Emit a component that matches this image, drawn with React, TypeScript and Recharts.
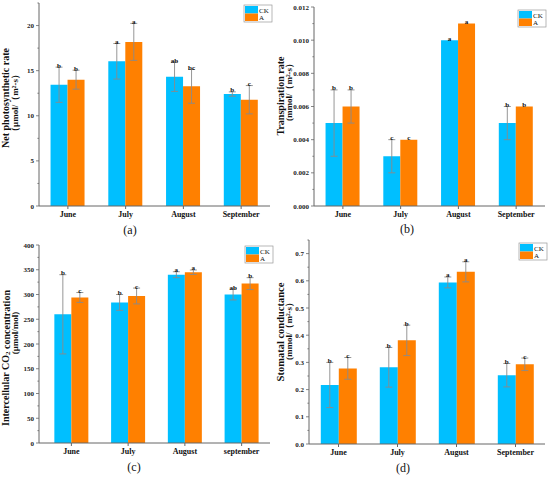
import { Bar, BarChart, ErrorBar, LabelList, XAxis, YAxis } from "recharts";

const BLUE = "#00BFFF";
const ORANGE = "#FF8000";
const AXIS = "#666";
const FONT = "'Liberation Serif', 'Times New Roman', serif";

const months = ["June", "July", "August", "September"];
const monthsC = ["June", "July", "August", "september"];

// (a) net photosynthetic rate
const pnCK = [13.44, 16.04, 14.33, 12.41];
const pnCKErr = [1.95, 1.97, 1.63, 0.24];
const pnA = [14.0, 18.19, 13.26, 11.78];
const pnAErr = [1.05, 2.05, 1.87, 1.57];
const pnCKSig = ["b", "a", "ab", "b"];
const pnASig = ["b", "a", "bc", "c"];
const pnTicks = [0, 2.5, 5, 7.5, 10, 12.5, 15, 17.5, 20, 22.5];

// (b) transpiration rate
const trCK = [0.005, 0.003, 0.01, 0.005];
const trCKErr = [0.002, 0.001, 0, 0.001];
const trA = [0.006, 0.004, 0.011, 0.006];
const trAErr = [0.001, 0, 0, 0];
const trCKSig = ["b", "c", "a", "b"];
const trASig = ["b", "c", "a", "b"];
const trTicks = [0, 0.001, 0.002, 0.003, 0.004, 0.005, 0.006, 0.007, 0.008, 0.009, 0.01, 0.011, 0.012];

// (c) intercellular CO2
const ciCK = [260, 284, 340, 300];
const ciCKErr = [80, 16, 6, 11];
const ciA = [294, 297, 345, 322];
const ciAErr = [10, 16, 4.5, 12];
const ciCKSig = ["b", "b", "a", "ab"];
const ciASig = ["c", "c", "a", "b"];
const ciTicks = [0, 25, 50, 75, 100, 125, 150, 175, 200, 225, 250, 275, 300, 325, 350, 375, 400];

// (d) stomatal conductance
const gsCK = [0.217, 0.282, 0.594, 0.253];
const gsCKErr = [0.083, 0.073, 0.02, 0.043];
const gsA = [0.278, 0.381, 0.633, 0.293];
const gsAErr = [0.04, 0.056, 0.037, 0.023];
const gsCKSig = ["b", "b", "a", "b"];
const gsASig = ["c", "b", "a", "c"];
const gsTicks = [0, 0.05, 0.1, 0.15, 0.2, 0.25, 0.3, 0.35, 0.4, 0.45, 0.5, 0.55, 0.6, 0.65, 0.7, 0.75];

function rows(names: string[], ck: number[], ckErr: number[], a: number[], aErr: number[]) {
  return names.map((name, i) => ({ name, ck: ck[i], ckErr: ckErr[i], a: a[i], aErr: aErr[i] }));
}

const isStep = (v: number, step: number) => Math.abs(v / step - Math.round(v / step)) < 1e-6;

function yTick(step: number, digits: number) {
  return (props: any) => {
    const { x, y, payload } = props;
    const v = payload.value as number;
    const major = isStep(v, step);
    const ax = x + 5;
    return (
      <g>
        <line x1={ax} x2={ax - (major ? 3 : 1.6)} y1={y} y2={y} stroke={AXIS} strokeWidth={0.8} />
        {major ? (
          <text x={x} y={y} dy={2.5} textAnchor="end" fontSize={7} fontWeight="bold" fontFamily={FONT} fill="#222" stroke="none">
            {v.toFixed(digits)}
          </text>
        ) : null}
      </g>
    );
  };
}

function sigLabel(sigs: string[], vals: number[], errs: number[]) {
  return (props: any) => {
    const vb = props.viewBox ?? {};
    const x = props.x ?? vb.x;
    const y = props.y ?? vb.y;
    const width = props.width ?? vb.width;
    const height = props.height ?? vb.height;
    const i = props.index ?? 0;
    const pxPerUnit = height / vals[i];
    const top = y - errs[i] * pxPerUnit;
    return (
      <text
        x={x + width / 2}
        y={top + 0.5}
        textAnchor="middle"
        fontSize={7}
        fontWeight="bold"
        fontFamily={FONT}
        fill="#111"
        stroke="none"
      >
        {sigs[i]}
      </text>
    );
  };
}

type PanelProps = {
  left: number;
  top: number;
  height: number;
  data: ReturnType<typeof rows>;
  ck: number[];
  ckErr: number[];
  a: number[];
  aErr: number[];
  ckSig: string[];
  aSig: string[];
  ticks: number[];
  step: number;
  digits: number;
  marginTop: number;
  axisWidth: number;
  xHeight: number;
  padLeft?: number;
};

function Panel(p: PanelProps) {
  return (
    <div style={{ position: "absolute", left: p.left, top: p.top }}>
      <BarChart
        width={275}
        height={p.height}
        data={p.data}
        margin={{ top: p.marginTop, right: 5, left: 0, bottom: 0 }}
        barCategoryGap="20%"
        barGap={0}
      >
        <XAxis
          dataKey="name"
          height={p.xHeight}
          padding={{ left: p.padLeft ?? 0, right: 0 }}
          tickSize={3}
          tickMargin={2}
          stroke={AXIS}
          tick={{ fontSize: 8, fontWeight: "bold", fontFamily: FONT, fill: "#111" }}
          interval={0}
        />
        <YAxis
          width={p.axisWidth}
          domain={[0, p.ticks[p.ticks.length - 1]]}
          ticks={p.ticks}
          interval={0}
          tickSize={3}
          tickMargin={2}
          tickLine={false}
          stroke={AXIS}
          tick={yTick(p.step, p.digits)}
          allowDataOverflow
        />
        <Bar dataKey="ck" fill={BLUE} isAnimationActive={false}>
          <ErrorBar dataKey="ckErr" width={3.5} stroke="#8a8a8a" strokeWidth={0.9} />
          <LabelList dataKey="ck" content={sigLabel(p.ckSig, p.ck, p.ckErr)} />
        </Bar>
        <Bar dataKey="a" fill={ORANGE} isAnimationActive={false}>
          <ErrorBar dataKey="aErr" width={3.5} stroke="#8a8a8a" strokeWidth={0.9} />
          <LabelList dataKey="a" content={sigLabel(p.aSig, p.a, p.aErr)} />
        </Bar>
      </BarChart>
    </div>
  );
}

function LegendBox({ x, y }: { x: number; y: number }) {
  return (
    <g>
      <rect x={x} y={y} width={28} height={17} fill="#fff" stroke="#999" strokeWidth={0.7} />
      <rect x={x + 1} y={y + 1} width={13} height={7.5} fill={BLUE} />
      <rect x={x + 1} y={y + 8.5} width={13} height={7.5} fill={ORANGE} />
      <text x={x + 15} y={y + 7.5} fontSize={7} fontFamily={FONT} fill="#111">CK</text>
      <text x={x + 15} y={y + 15} fontSize={7} fontFamily={FONT} fill="#111">A</text>
    </g>
  );
}

function YLabel({ x, cy, text, size }: { x: number; cy: number; text: any; size: number }) {
  return (
    <text
      x={x}
      y={cy}
      transform={`rotate(-90 ${x} ${cy})`}
      textAnchor="middle"
      dominantBaseline="central"
      fontSize={size}
      fontWeight="bold"
      fontFamily={FONT}
      fill="#111"
    >
      {text}
    </text>
  );
}

function Caption({ x, y, text }: { x: number; y: number; text: string }) {
  return (
    <text x={x} y={y} textAnchor="middle" dominantBaseline="central" fontSize={12} fontFamily={FONT} fill="#111">
      {text}
    </text>
  );
}

export default function App() {
  return (
    <div style={{ position: "fixed", left: 0, top: 0, width: 550, height: 478, background: "#fff", overflow: "hidden" }}>
      <Panel
        left={0} top={0} height={238}
        data={rows(months, pnCK, pnCKErr, pnA, pnAErr)}
        ck={pnCK} ckErr={pnCKErr} a={pnA} aErr={pnAErr} ckSig={pnCKSig} aSig={pnASig}
        ticks={pnTicks} step={5} digits={0} marginTop={3} axisWidth={39} xHeight={32}
      />
      <Panel
        left={275} top={0} height={238}
        data={rows(months, trCK, trCKErr, trA, trAErr)}
        ck={trCK} ckErr={trCKErr} a={trA} aErr={trAErr} ckSig={trCKSig} aSig={trASig}
        ticks={trTicks} step={0.002} digits={3} marginTop={7} axisWidth={39} xHeight={32}
      />
      <Panel
        left={0} top={238} height={240}
        data={rows(monthsC, ciCK, ciCKErr, ciA, ciAErr)}
        ck={ciCK} ckErr={ciCKErr} a={ciA} aErr={ciAErr} ckSig={ciCKSig} aSig={ciASig}
        ticks={ciTicks} step={50} digits={0} marginTop={7} axisWidth={39} xHeight={35} padLeft={4}
      />
      <Panel
        left={275} top={238} height={240}
        data={rows(months, gsCK, gsCKErr, gsA, gsAErr)}
        ck={gsCK} ckErr={gsCKErr} a={gsA} aErr={gsAErr} ckSig={gsCKSig} aSig={gsASig}
        ticks={gsTicks} step={0.1} digits={1} marginTop={2} axisWidth={34} xHeight={34}
      />
      <svg width={550} height={478} style={{ position: "absolute", left: 0, top: 0, pointerEvents: "none" }}>
        <LegendBox x={244} y={5} />
        <LegendBox x={518} y={10} />
        <LegendBox x={245} y={246} />
        <LegendBox x={519} y={243} />

        <YLabel x={5.5} cy={98} size={10} text="Net photosynthetic rate" />
        <YLabel x={14.5} cy={103} size={9} text="（μmol/（m²·s）" />
        <YLabel x={280} cy={96} size={10} text="Transpiration rate" />
        <YLabel x={289} cy={90} size={9} text="(mmol/（m²·s）" />
        <YLabel
          x={5.5}
          cy={358}
          size={10}
          text={
            <>
              Intercellular CO<tspan fontSize={7} dy={2}>2</tspan>
              <tspan dy={-2}> concentration</tspan>
            </>
          }
        />
        <YLabel x={14.5} cy={333} size={9} text="(μmol/mol)" />
        <YLabel x={280} cy={332} size={10.5} text="Stomatal conductance" />
        <YLabel x={289} cy={329} size={9} text="(mmol/（m²·s）" />

        <Caption x={130} y={230} text="(a)" />
        <Caption x={407} y={229} text="(b)" />
        <Caption x={134} y={467} text="(c)" />
        <Caption x={403} y={468} text="(d)" />
      </svg>
    </div>
  );
}
